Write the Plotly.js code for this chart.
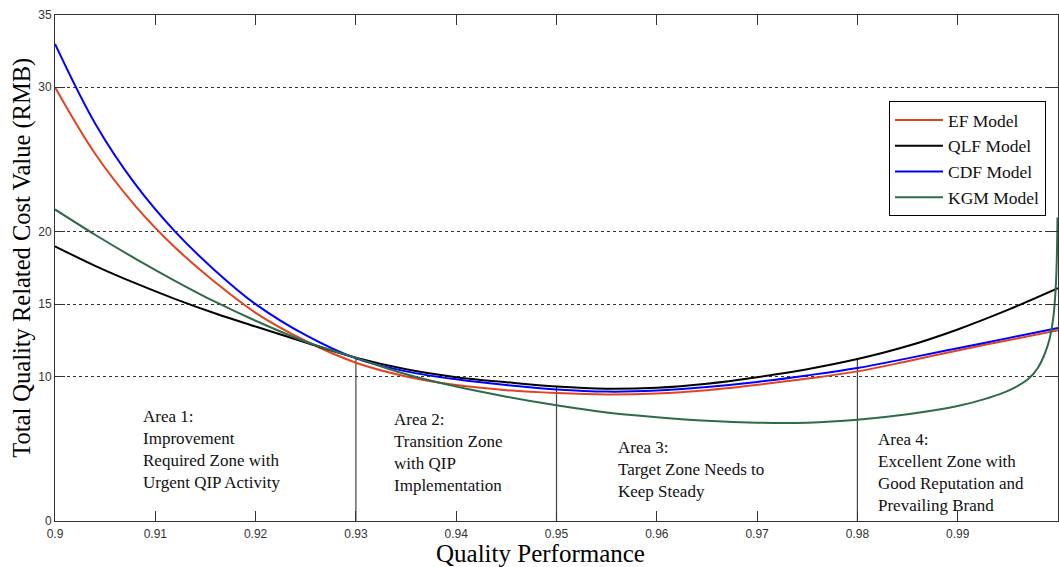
<!DOCTYPE html>
<html>
<head>
<meta charset="utf-8">
<script src="https://cdn.plot.ly/plotly-3.0.1.min.js"></script>
<style>
  html, body { margin: 0; padding: 0; background: #fff; }
  #chart { width: 1059px; height: 567px; }
</style>
</head>
<body>
<div id="chart"></div>
<script>
// ---- data ----
const qualityX = [0.9, 0.904, 0.908, 0.912, 0.916, 0.92, 0.925, 0.93, 0.935, 0.94, 0.945,
                  0.95, 0.955, 0.96, 0.965, 0.97, 0.975, 0.98, 0.985, 0.99, 0.995, 1.0];
const efCost  = [30.0, 25.4, 21.8, 18.9, 16.5, 14.4, 12.45, 10.95, 10.0, 9.4, 9.05,
                 8.85, 8.75, 8.82, 9.05, 9.42, 9.85, 10.35, 11.05, 11.8, 12.5, 13.2];
const qlfCost = [19.0, 17.65, 16.45, 15.35, 14.35, 13.45, 12.35, 11.3, 10.5, 9.95, 9.6,
                 9.3, 9.15, 9.22, 9.5, 9.95, 10.5, 11.2, 12.1, 13.25, 14.6, 16.1];
const cdfCost = [33.0, 27.5, 23.3, 20.0, 17.3, 15.0, 12.85, 11.25, 10.35, 9.8, 9.4,
                 9.1, 8.95, 9.02, 9.27, 9.62, 10.07, 10.58, 11.25, 11.95, 12.65, 13.35];
const kgmX    = [0.9, 0.904, 0.908, 0.912, 0.916, 0.92, 0.925, 0.93, 0.935, 0.94, 0.945,
                 0.95, 0.955, 0.96, 0.965, 0.97, 0.975, 0.98, 0.985, 0.99, 0.993, 0.995,
                 0.997, 0.998, 0.999, 0.9995, 0.9998, 0.99995];
const kgmCost = [21.55, 19.8, 18.15, 16.6, 15.15, 13.85, 12.4, 11.28, 10.15, 9.3, 8.6,
                 8.0, 7.5, 7.18, 6.93, 6.8, 6.8, 7.0, 7.38, 7.95, 8.5, 9.0,
                 9.8, 10.6, 12.2, 13.9, 16.5, 21.0];
const seriesNames = ['EF Model', 'QLF Model', 'CDF Model', 'KGM Model'];
const zoneBounds = [0.93, 0.95, 0.98];
const zoneBoundTops = [11.28, 9.3, 11.2];
const areaTexts = [
  'Area 1:<br>Improvement<br>Required Zone with<br>Urgent QIP Activity',
  'Area 2:<br>Transition Zone<br>with QIP<br>Implementation',
  'Area 3:<br>Target Zone Needs to<br>Keep Steady',
  'Area 4:<br>Excellent Zone with<br>Good Reputation and<br>Prevailing Brand'
];
const xTickVals = [0.9, 0.91, 0.92, 0.93, 0.94, 0.95, 0.96, 0.97, 0.98, 0.99];
const xTickText = ['0.9', '0.91', '0.92', '0.93', '0.94', '0.95', '0.96', '0.97', '0.98', '0.99'];
const yTickVals = [0, 10, 15, 20, 30, 35];
const yTickText = ['0', '10', '15', '20', '30', '35'];
const xTitle = 'Quality Performance';
const yTitle = 'Total Quality Related Cost Value (RMB)';

// ---- styles ----
const colors = ['#e2421e', '#000000', '#0000ff', '#2e6b4b'];
const serif = 'Liberation Serif, Times New Roman, serif';
const sans = 'Liberation Sans, Arial, sans-serif';

const traces = [
  { x: qualityX, y: efCost,  name: seriesNames[0] },
  { x: qualityX, y: qlfCost, name: seriesNames[1] },
  { x: qualityX, y: cdfCost, name: seriesNames[2] },
  { x: kgmX,     y: kgmCost, name: seriesNames[3] }
].map((t, i) => Object.assign(t, {
  type: 'scatter', mode: 'lines',
  line: { color: colors[i], width: 2, shape: 'spline', smoothing: 1 },
  hoverinfo: 'x+y+name'
}));

const shapes = zoneBounds.map((xv, i) => ({
  type: 'line', xref: 'x', yref: 'y',
  x0: xv, x1: xv, y0: 0, y1: zoneBoundTops[i],
  line: { color: '#444', width: 1.2 },
  layer: 'below'
}));

const areaPos = [[0.9086, 8.0], [0.9336, 7.8], [0.9559, 5.87], [0.9819, 6.4]];
const annotations = areaTexts.map((txt, i) => ({
  xref: 'x', yref: 'y', x: areaPos[i][0], y: areaPos[i][1],
  xanchor: 'left', yanchor: 'top', align: 'left',
  text: txt, showarrow: false,
  font: { family: serif, size: 17, color: '#111' }
}));
// axis titles placed as in the reference (slightly off-centre)
annotations.push({
  xref: 'paper', yref: 'paper', x: 0.484, y: -0.064,
  xanchor: 'center', yanchor: 'middle', showarrow: false,
  text: xTitle, font: { family: serif, size: 25, color: '#000' }
});
annotations.push({
  xref: 'paper', yref: 'paper', x: -0.033, y: 0.52,
  xanchor: 'center', yanchor: 'middle', showarrow: false, textangle: -90,
  text: yTitle, font: { family: serif, size: 24.5, color: '#000' }
});

const layout = {
  width: 1059, height: 567,
  margin: { l: 55, r: 1, t: 15, b: 46, pad: 0 },
  paper_bgcolor: '#fff', plot_bgcolor: '#fff',
  showlegend: true,
  legend: {
    x: 0.8315, y: 0.83, xanchor: 'left', yanchor: 'top',
    bgcolor: '#fff', bordercolor: '#000', borderwidth: 1,
    font: { family: serif, size: 17.5, color: '#111' },
    itemwidth: 48, tracegroupgap: 0
  },
  xaxis: {
    range: [0.9, 1.0], tickvals: xTickVals, ticktext: xTickText,
    ticks: 'inside', ticklen: 10, tickwidth: 1, tickcolor: '#333',
    showline: true, linecolor: '#333', linewidth: 1, mirror: 'ticks',
    showgrid: false, zeroline: false, ticklabelstandoff: 2,
    tickfont: { family: sans, size: 12, color: '#333' }
  },
  yaxis: {
    range: [0, 35], tickvals: yTickVals, ticktext: yTickText,
    ticks: 'inside', ticklen: 10, tickwidth: 1, tickcolor: '#333',
    showline: true, linecolor: '#333', linewidth: 1, mirror: 'ticks',
    showgrid: true, gridcolor: '#333', gridwidth: 1, griddash: '3px,3px',
    zeroline: false,
    tickfont: { family: sans, size: 12, color: '#333' }
  },
  shapes: shapes,
  annotations: annotations
};

Plotly.newPlot('chart', traces, layout, { displayModeBar: false, staticPlot: true });
</script>
</body>
</html>
